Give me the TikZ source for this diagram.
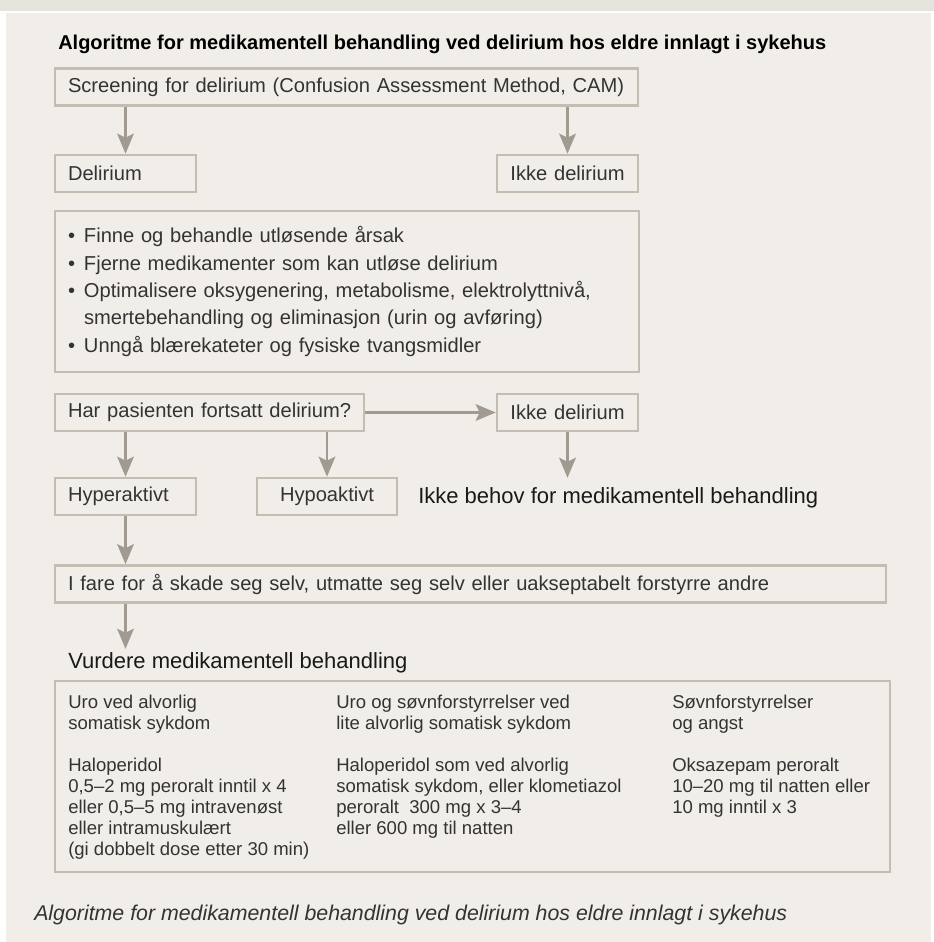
\documentclass[tikz,border=0pt]{standalone}
\usepackage{fontspec}
\setmainfont{Liberation Sans}
\usepackage{xcolor}
\usepackage{tikz}
\usetikzlibrary{arrows.meta}

\definecolor{panelbg}{HTML}{F1EEE9}
\definecolor{bandbg}{HTML}{E7E3DD}
\definecolor{boxline}{HTML}{C5BDB1}
\definecolor{arrowgray}{HTML}{A09A91}
\definecolor{textgray}{HTML}{333333}
\newcommand{\blt}{\makebox[12pt][l]{\textbullet}}

\begin{document}
\begin{tikzpicture}[x=0.75pt, y=-0.75pt, auto]
    % Define styles
    \tikzstyle{box} = [rectangle, draw=boxline, line width=2pt, text=textgray, font=\fontsize{15.1pt}{20.6pt}\selectfont, inner xsep=9.75pt, inner ysep=0pt, minimum height=27.75pt, align=left]
    \tikzstyle{smallbox} = [box, text width=86.25pt]
    \tikzstyle{midbox} = [box, inner xsep=4pt, text width=97.75pt, align=center]
    \tikzstyle{flow} = [draw=arrowgray, line width=1.9pt, -{Stealth[length=15pt, width=12.5pt, inset=3pt]}]
    \tikzstyle{heading} = [inner sep=0pt, anchor=base west, font=\fontsize{16.5pt}{20pt}\selectfont, text=black!90]
    \tikzstyle{tabcol} = [anchor=north west, inner sep=0pt, align=left, text=textgray, font=\fontsize{13.9pt}{15.75pt}\selectfont]

    % Background
    \useasboundingbox (0,0) rectangle (934,942);
    \fill[panelbg] (0,0) rectangle (934,942);
    \fill[bandbg] (0,0) rectangle (934,11);
    \fill[white] (0,11) rectangle (934,13);
    \fill[white] (0,13) rectangle (6,942);
    \fill[white] (931,13) rectangle (934,942);

    % Title
    \node[anchor=base west, inner sep=0pt, font=\bfseries\fontsize{15pt}{18pt}\selectfont] (title) at (58,50)
        {Algoritme for medikamentell behandling ved delirium hos eldre innlagt i sykehus};

    % Screening
    \node[box, text width=417.75pt] (screen) at (346.5,87)
        {\mbox{Screening for delirium (Confusion Assessment Method, CAM)}};
    \node[smallbox] (delir) at (125.5,173.5) {Delirium};
    \node[midbox] (ikkeA) at (567.5,173.5) {Ikke delirium};

    % Tiltak
    \node[box, text width=418.5pt, minimum height=120.75pt] (tiltak) at (347,291.5) {
        \blt Finne og behandle utløsende årsak\\
        \blt Fjerne medikamenter som kan utløse delirium\\
        \blt Optimalisere oksygenering, metabolisme, elektrolyttnivå,\\
        \hspace*{12pt}smertebehandling og eliminasjon (urin og avføring)\\
        \blt Unngå blærekateter og fysiske tvangsmidler
    };

    % Fortsatt delirium?
    \node[box, text width=212.25pt] (har) at (209.5,412.5) {\mbox{Har pasienten fortsatt delirium?}};
    \node[midbox] (ikkeB) at (567.5,412.5) {Ikke delirium};
    \node[smallbox] (hyper) at (125.5,496.5) {Hyperaktivt};
    \node[midbox, text width=97pt] (hypo) at (327,496.5) {Hypoaktivt};
    \node[heading, inner ysep=6.75pt] (behov) at (418,503) {Ikke behov for medikamentell behandling};

    % Fare
    \node[box, text width=603.75pt] (fare) at (470.5,584)
        {I fare for å skade seg selv, utmatte seg selv eller uakseptabelt forstyrre andre};
    \node[heading, inner ysep=2.25pt] (vurdere) at (68,668) {Vurdere medikamentell behandling};

    % Tabell
    \node[box, minimum width=626.25pt, minimum height=143.25pt] (tabell) at (472.5,776.5) {};
    \node[tabcol] (kol1) at (68,695) {
        Uro ved alvorlig\\
        somatisk sykdom\\[15.75pt]
        Haloperidol\\
        0,5--2 mg peroralt inntil x 4\\
        eller 0,5--5 mg intravenøst\\
        eller intramuskulært\\
        (gi dobbelt dose etter 30 min)
    };
    \node[tabcol] (kol2) at (336,695) {
        Uro og søvnforstyrrelser ved\\
        lite alvorlig somatisk sykdom\\[15.75pt]
        Haloperidol som ved alvorlig\\
        somatisk sykdom, eller klometiazol\\
        peroralt\ \ 300 mg x 3--4\\
        eller 600 mg til natten
    };
    \node[tabcol] (kol3) at (672,695) {
        Søvnforstyrrelser\\
        og angst\\[15.75pt]
        Oksazepam peroralt\\
        10--20 mg til natten eller\\
        10 mg inntil x 3
    };

    % Caption
    \node[anchor=base west, inner sep=0pt, text=textgray, font=\itshape\fontsize{16pt}{19pt}\selectfont] (caption) at (34,920)
        {Algoritme for medikamentell behandling ved delirium hos eldre innlagt i sykehus};

    % Arrows
    \draw[flow] (screen.south -| delir.north) -- (delir.north);
    \draw[flow] (screen.south -| ikkeA.north) -- (ikkeA.north);
    \draw[flow] (har.east) -- (ikkeB.west);
    \draw[flow] (har.south -| hyper.north) -- (hyper.north);
    \draw[flow] (har.south -| hypo.north) -- (hypo.north);
    \draw[flow] (ikkeB.south) -- (ikkeB.south |- behov.north);
    \draw[flow] (hyper.south) -- (hyper.south |- fare.north);
    \draw[flow] (fare.south -| hyper.south) -- (vurdere.north -| hyper.south);
\end{tikzpicture}
\end{document}
